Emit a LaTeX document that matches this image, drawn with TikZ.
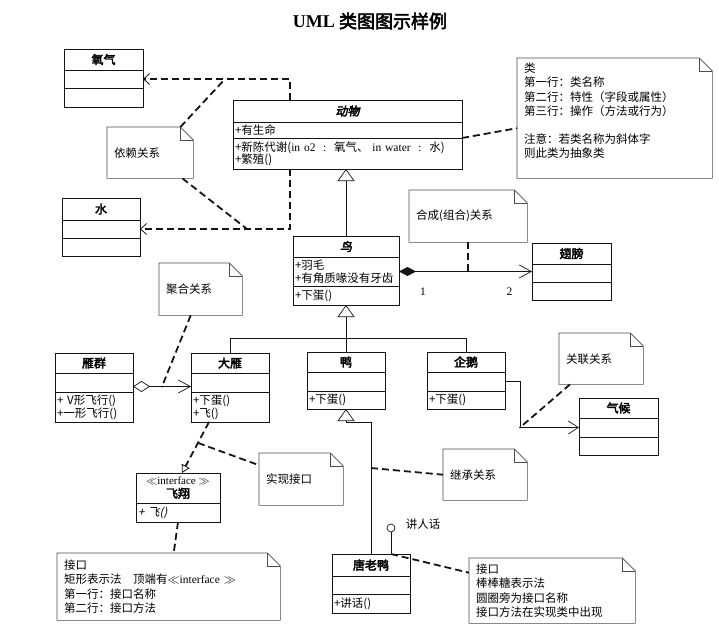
\documentclass[tikz,border=0pt]{standalone}
\usepackage{fontspec}
\setmainfont{Noto Sans CJK SC}[BoldFont={Noto Sans CJK SC},BoldFeatures={FakeBold=3},ItalicFont={Noto Sans CJK SC},ItalicFeatures={FakeSlant=0.2},BoldItalicFont={Noto Sans CJK SC},BoldItalicFeatures={FakeBold=3,FakeSlant=0.2}]
\newfontfamily\latf{Liberation Serif}
\usetikzlibrary{arrows.meta,positioning}

\tikzset{
  every node/.style={font=\fontsize{11.5}{13}\selectfont},
  cls/.style={draw=cline, line width=1pt, inner sep=0pt, outer sep=0pt, minimum width=#1},
  cname/.style={cls=#1, minimum height=21pt, align=center, font=\fontsize{12}{13}\selectfont\bfseries},
  cabs/.style={cname=#1, font=\fontsize{12}{13}\selectfont\bfseries\itshape},
  cpart/.style 2 args={cls=#1, minimum height=#2, text width=#1-4pt, inner xsep=2pt, align=left},
  note/.style 2 args={minimum height=#2, text width=#1-14pt, inner xsep=7pt, inner ysep=0pt, align=left, anchor=north west, font=\fontsize{11.5}{14.5}\selectfont},
  notedraw/.style={draw=cnote, line width=0.6pt},
  line/.style={draw=cline, line width=0.7pt},
  dep/.style={draw=cline, line width=1.8pt, dash pattern=on 7pt off 4pt},
  depto/.style={dep, -{Straight Barb[line width=0.8pt,length=6pt,width=11pt]}},
  gen/.style={line, -{Triangle[open,length=12pt,width=17pt]}},
  real/.style={dep, -{Triangle[open,line width=0.8pt,length=8pt,width=9pt]}},
  comp/.style={line, {Diamond[length=17pt,width=9pt]}-{Straight Barb[length=12pt,width=13pt]}},
  aggr/.style={line, {Diamond[open,length=17pt,width=11pt]}-{Straight Barb[length=12pt,width=13pt]}},
  assoc/.style={line, -{Straight Barb[length=10pt,width=13pt]}},
  ball/.style={circle, draw=cline, line width=0.7pt, minimum size=8pt, inner sep=0pt, fill=white}
}

\newcommand\notefold[1]{%
  \draw[notedraw] (#1.north west) -- ([xshift=-13pt]#1.north east) -- ([yshift=-13pt]#1.north east) -- (#1.south east) -- (#1.south west) -- cycle;
  \draw[notedraw] ([xshift=-13pt]#1.north east) |- ([yshift=-13pt]#1.north east);}

\begin{document}
\begin{tikzpicture}[x=1pt,y=-1pt]
\definecolor{cline}{rgb}{0.08,0.08,0.08}
\definecolor{cnote}{rgb}{0.3,0.3,0.3}
\useasboundingbox (0,0) rectangle (719,640);
%
\node[font=\fontsize{18}{20}\selectfont\bfseries] (title) at (370,21) {{\latf UML} 类图图示样例};
%
\node[cname=79pt, anchor=north west] (yq) at (64,49) {氧气};
\node[cpart={79pt}{18pt}, below=0pt of yq] (yq-a) {};
\node[cpart={79pt}{19pt}, below=0pt of yq-a] (yq-o) {};
\node[cname=78pt, minimum height=22pt, anchor=north west] (sh) at (62,198) {水};
\node[cpart={78pt}{18pt}, below=0pt of sh] (sh-a) {};
\node[cpart={78pt}{18pt}, below=0pt of sh-a] (sh-o) {};
\node[cabs=229pt, minimum height=22pt, anchor=north west] (dw) at (233,100) {动物};
\node[cpart={229pt}{16pt}, below=0pt of dw] (dw-a) {+有生命};
\node[cpart={229pt}{31pt}, below=0pt of dw-a, font=\fontsize{11.5}{12.5}\selectfont] (dw-o) {+新陈代谢({\latf in o2\ \ :\ \ }氧气、\ {\latf in water\ \ :\ \ }水)\\+繁殖()};
\node[cabs=106pt, anchor=north west] (ni) at (293,236) {鸟};
\node[cpart={106pt}{29pt}, below=0pt of ni] (ni-a) {+羽毛\\+有角质喙没有牙齿};
\node[cpart={106pt}{19pt}, below=0pt of ni-a] (ni-o) {+下蛋()};
\node[cname=79pt, anchor=north west] (cb) at (532,243) {翅膀};
\node[cpart={79pt}{18pt}, below=0pt of cb] (cb-a) {};
\node[cpart={79pt}{18pt}, below=0pt of cb-a] (cb-o) {};
\node[cname=78pt, minimum height=20pt, anchor=north west] (yqn) at (55,353) {雁群};
\node[cpart={78pt}{19pt}, below=0pt of yqn] (yqn-a) {};
\node[cpart={78pt}{30pt}, below=0pt of yqn-a] (yqn-o) {+ V形飞行()\\+一形飞行()};
\node[cname=78pt, minimum height=20pt, anchor=north west] (dy) at (191,353) {大雁};
\node[cpart={78pt}{19pt}, below=0pt of dy] (dy-a) {};
\node[cpart={78pt}{30pt}, below=0pt of dy-a] (dy-o) {+下蛋()\\+飞()};
\node[cname=78pt, minimum height=20pt, anchor=north west] (ya) at (307,352) {鸭};
\node[cpart={78pt}{19pt}, below=0pt of ya] (ya-a) {};
\node[cpart={78pt}{18pt}, below=0pt of ya-a] (ya-o) {+下蛋()};
\node[cname=78pt, minimum height=20pt, anchor=north west] (qe) at (427,352) {企鹅};
\node[cpart={78pt}{19pt}, below=0pt of qe] (qe-a) {};
\node[cpart={78pt}{18pt}, below=0pt of qe-a] (qe-o) {+下蛋()};
\node[cname=79pt, minimum height=20pt, anchor=north west] (qh) at (579,398) {气候};
\node[cpart={79pt}{19pt}, below=0pt of qh] (qh-a) {};
\node[cpart={79pt}{18pt}, below=0pt of qh-a] (qh-o) {};
\node[cname=78pt, minimum height=22pt, anchor=north west] (tly) at (332,554) {唐老鸭};
\node[cpart={78pt}{18pt}, below=0pt of tly] (tly-a) {};
\node[cpart={78pt}{19pt}, below=0pt of tly-a] (tly-o) {+讲话()};
\node[cname=84pt, minimum height=30pt, anchor=north west, font=\fontsize{12}{13}\selectfont\bfseries] (fx) at (136,473) {{\mdseries\latf\fontsize{11}{12}\selectfont $\ll$interface $\gg$}\\飞翔};
\node[cpart={84pt}{19pt}, below=0pt of fx] (fx-o) {{\itshape + 飞()}};
\node[ball] (lp) at (391,528) {};
\node (jrh) at (423,524) {讲人话};
%
\node[note={86pt}{51pt}] (yl) at (107,127) {依赖关系};
\node[note={195pt}{120pt}] (lei) at (517,58) {类\\第一行：类名称\\第二行：特性（字段或属性）\\第三行：操作（方法或行为）\\[13pt]注意：若类名称为斜体字\\则此类为抽象类\\[2pt]\mbox{}};
\node[note={118pt}{52pt}] (hc) at (409,190) {合成(组合)关系};
\node[note={83pt}{52pt}] (jh) at (159,263) {聚合关系};
\node[note={84pt}{51pt}] (gl) at (559,333) {关联关系};
\node[note={84pt}{52pt}] (sx) at (259,453) {实现接口};
\node[note={84pt}{51pt}] (jc) at (443,449) {继承关系};
\node[note={223pt}{67pt}] (jk1) at (57,553) {接口\\矩形表示法\quad 顶端有{\latf $\ll$interface $\gg$}\\第一行：接口名称\\第二行：接口方法};
\node[note={166pt}{65pt}] (jk2) at (469,558) {接口\\棒棒糖表示法\\圆圈旁为接口名称\\接口方法在实现类中出现};
\notefold{yl}
\notefold{lei}
\notefold{hc}
\notefold{jh}
\notefold{gl}
\notefold{sx}
\notefold{jc}
\notefold{jk1}
\notefold{jk2}
%
\coordinate (d1) at (225,79);
\coordinate (d2) at (247,229);
\coordinate (g1) at (162,386.5);
\coordinate (a1) at (520,427.5);
\coordinate (j1) at (371,468);
%
\draw[depto] ([xshift=57pt]dw.north west) |- (yq-a.east);
\draw[depto] ([xshift=57pt]dw-o.south west) |- (sh-a.east);
\draw[dep] ([xshift=-13pt]yl.north east) -- (d1);
\draw[dep] ([xshift=-11pt]yl.south east) -- (d2);
\draw[dep] (dw-a.south east) -- ([yshift=-10pt]lei.west);
\draw[gen] (ni.north) -- (ni.north |- dw-o.south);
\draw[comp] (ni-a.east) -- (ni-a.east -| cb-a.west)
  node[pos=0.18, yshift=-20pt, font=\latf\fontsize{11.5}{13}\selectfont] (m1) {1}
  node[pos=0.83, yshift=-20pt, font=\latf\fontsize{11.5}{13}\selectfont] (m2) {2};
\draw[dep] (hc.south) -- (hc.south |- ni-a.east);
\draw[gen] (ya.north) -- (ni-o.south);
\draw[line] (dy.north) -- ++(0,-15) -| (qe.north);
\draw[aggr] ([yshift=-4pt]yqn-a.east) -- ([yshift=-4pt]dy-a.west);
\fill[cline] (g1) circle (1pt);
\draw[dep] ([xshift=-10pt]jh.south) -- (g1);
\draw[assoc] (qe-a.east) -- ++(15,0) |- (qh-a.west);
\fill[cline] (a1) circle (1pt);
\draw[dep] ([xshift=11pt]gl.south west) -- (a1);
\draw[real] ([xshift=-21pt]dy-o.south) -- ([xshift=4pt]fx.north) coordinate[pos=0.41] (r1);
\draw[dep] (r1) -- ([yshift=14pt]sx.west);
\draw[dep] (fx-o.south) -- ([xshift=5pt]jk1.north);
\draw[gen] (tly.north) -- ++(0,-132) -| (ya-o.south);
\draw[dep] (j1) -- (jc.west);
\draw[line] (lp.south) -- (lp.south |- tly.north);
\draw[dep] (lp.south |- tly.north) -- ([yshift=18pt]jk2.west);
%
\end{tikzpicture}
\end{document}
